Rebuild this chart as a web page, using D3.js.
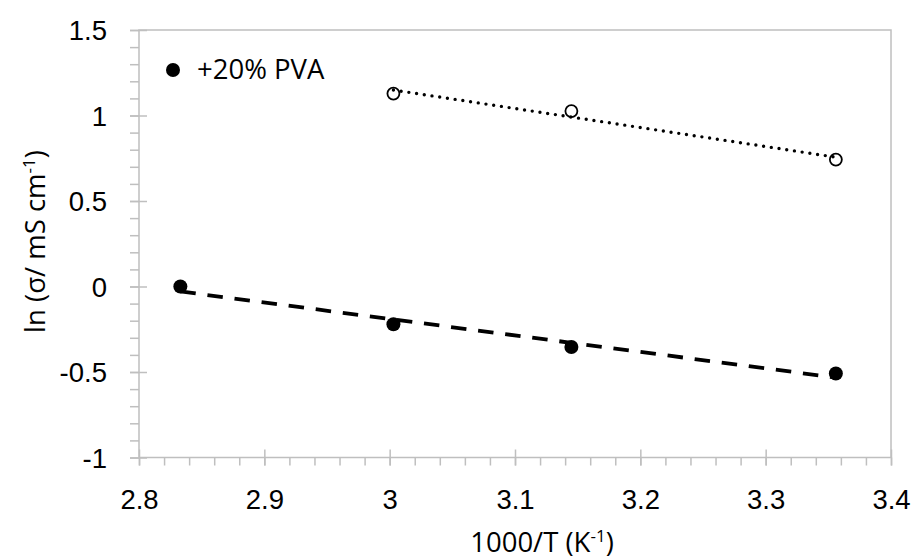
<!DOCTYPE html>
<html>
<head>
<meta charset="utf-8">
<script src="https://cdn.jsdelivr.net/npm/d3@7"></script>
<style>
  body { margin: 0; background: #fff; }
  svg { display: block; font-family: "Open Sans", sans-serif; }
</style>
</head>
<body>
<svg id="chart" width="913" height="560"></svg>
<script>
// 1000/T values and ln(sigma)
const xFilled = [2.833, 3.003, 3.145, 3.356];
const yFilled = [0.0, -0.221, -0.354, -0.509];
const xOpen = [3.003, 3.145, 3.356];
const yOpen = [1.128, 1.026, 0.742];

const xTicks = [2.8, 2.9, 3, 3.1, 3.2, 3.3, 3.4];
const yTicks = [-1, -0.5, 0, 0.5, 1, 1.5];
const legendLabel = "+20% PVA";

const width = 913;
const height = 560;
const margin = { top: 30, right: 22, bottom: 102.5, left: 139 };
const axisColor = "#bfbfbf";
const fontSize = "27.5px";

const svg = d3.select("#chart");

const x = d3.scaleLinear()
  .domain([2.8, 3.4])
  .range([margin.left, width - margin.right]);

const y = d3.scaleLinear()
  .domain([-1, 1.5])
  .range([height - margin.bottom, margin.top]);

// least squares fit, drawn between the first and last point like Excel's trendline
function fit(xs, ys) {
  const mx = d3.mean(xs);
  const my = d3.mean(ys);
  const sxy = d3.sum(xs, (v, i) => (v - mx) * (ys[i] - my));
  const sxx = d3.sum(xs, v => (v - mx) * (v - mx));
  const slope = sxy / sxx;
  const x0 = d3.min(xs);
  const x1 = d3.max(xs);
  return [
    [x0, my + slope * (x0 - mx)],
    [x1, my + slope * (x1 - mx)]
  ];
}

function styleTicks(g) {
  g.select(".domain").remove();
  g.selectAll(".tick line")
    .attr("stroke", axisColor)
    .attr("stroke-width", 1.5);
}

// plot frame
svg.append("rect")
  .attr("x", x(2.8))
  .attr("y", y(1.5))
  .attr("width", x(3.4) - x(2.8))
  .attr("height", y(-1) - y(1.5))
  .attr("fill", "none")
  .attr("stroke", axisColor)
  .attr("stroke-width", 1.5);

// minor ticks
svg.append("g")
  .attr("transform", `translate(0,${y(-1)})`)
  .call(d3.axisBottom(x)
    .tickValues(d3.range(2.8, 3.401, 0.02))
    .tickSize(8)
    .tickFormat(""))
  .call(styleTicks);

svg.append("g")
  .attr("transform", `translate(${x(2.8)},0)`)
  .call(d3.axisLeft(y)
    .tickValues(d3.range(-1, 1.501, 0.1))
    .tickSize(9)
    .tickFormat(""))
  .call(styleTicks);

// major ticks, crossing the axis
const xAxis = svg.append("g")
  .attr("transform", `translate(0,${y(-1)})`)
  .call(d3.axisBottom(x)
    .tickValues(xTicks)
    .tickSize(8)
    .tickFormat(d => String(d)))
  .call(styleTicks);

xAxis.selectAll(".tick line").attr("y1", -8);
xAxis.selectAll(".tick text")
  .attr("y", 51)
  .attr("dy", null)
  .attr("fill", "#000")
  .style("font-size", fontSize);

const yAxis = svg.append("g")
  .attr("transform", `translate(${x(2.8)},0)`)
  .call(d3.axisLeft(y)
    .tickValues(yTicks)
    .tickSize(9)
    .tickFormat(d => String(d)))
  .call(styleTicks);

yAxis.selectAll(".tick line").attr("x1", 8);
yAxis.selectAll(".tick text")
  .attr("x", -32)
  .attr("dy", "0.36em")
  .attr("fill", "#000")
  .style("font-size", fontSize);

// markers
const filled = xFilled.map((v, i) => [v, yFilled[i]]);
const open = xOpen.map((v, i) => [v, yOpen[i]]);

svg.append("g")
  .selectAll("circle")
  .data(filled)
  .join("circle")
  .attr("cx", d => x(d[0]))
  .attr("cy", d => y(d[1]))
  .attr("r", 7)
  .attr("fill", "#000");

svg.append("g")
  .selectAll("circle")
  .data(open)
  .join("circle")
  .attr("cx", d => x(d[0]))
  .attr("cy", d => y(d[1]))
  .attr("r", 6)
  .attr("fill", "#fff")
  .attr("stroke", "#000")
  .attr("stroke-width", 1.8);

// trendlines
const line = d3.line()
  .x(d => x(d[0]))
  .y(d => y(d[1]));

svg.append("path")
  .attr("d", line(fit(xFilled, yFilled)))
  .attr("fill", "none")
  .attr("stroke", "#000")
  .attr("stroke-width", 3.8)
  .attr("stroke-dasharray", "15.5,11.8");

svg.append("path")
  .attr("d", line(fit(xOpen, yOpen)))
  .attr("fill", "none")
  .attr("stroke", "#000")
  .attr("stroke-width", 3.4)
  .attr("stroke-linecap", "round")
  .attr("stroke-dasharray", "0,7.8");

// legend
svg.append("circle")
  .attr("cx", 173)
  .attr("cy", 70)
  .attr("r", 7)
  .attr("fill", "#000");

svg.append("text")
  .attr("x", 197)
  .attr("y", 79)
  .style("font-size", fontSize)
  .text(legendLabel);

// axis titles
const xTitle = svg.append("text")
  .attr("x", 542)
  .attr("y", 552)
  .attr("text-anchor", "middle")
  .style("font-size", fontSize);
xTitle.append("tspan").text("1000/T (K");
xTitle.append("tspan").attr("dy", -10).style("font-size", "17px").text("-1");
xTitle.append("tspan").attr("dy", 10).text(")");

const yTitle = svg.append("text")
  .attr("transform", "rotate(-90)")
  .attr("x", -241.5)
  .attr("y", 45)
  .attr("text-anchor", "middle")
  .style("font-size", fontSize);
yTitle.append("tspan").text("ln (σ/ mS cm");
yTitle.append("tspan").attr("dy", -10).style("font-size", "17px").text("-1");
yTitle.append("tspan").attr("dy", 10).text(")");
</script>
</body>
</html>
